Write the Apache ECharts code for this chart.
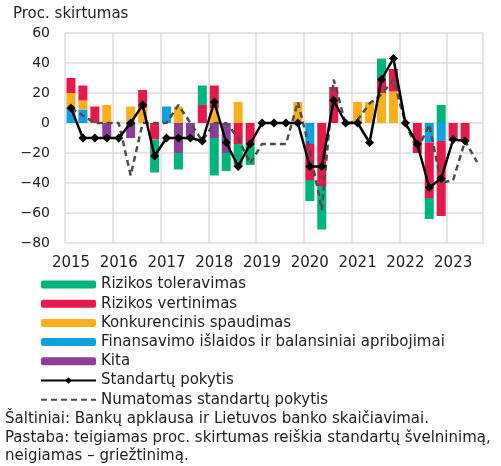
<!DOCTYPE html>
<html>
<head>
<meta charset="utf-8">
<script src="https://cdn.jsdelivr.net/npm/echarts@6/dist/echarts.min.js"></script>
<style>html,body{margin:0;padding:0;background:#fff;}#c{width:501px;height:466px;}</style>
</head>
<body>
<div id="c"></div>
<script>
const quarters = ['2015 Q1','2015 Q2','2015 Q3','2015 Q4','2016 Q1','2016 Q2','2016 Q3','2016 Q4',
'2017 Q1','2017 Q2','2017 Q3','2017 Q4','2018 Q1','2018 Q2','2018 Q3','2018 Q4',
'2019 Q1','2019 Q2','2019 Q3','2019 Q4','2020 Q1','2020 Q2','2020 Q3','2020 Q4',
'2021 Q1','2021 Q2','2021 Q3','2021 Q4','2022 Q1','2022 Q2','2022 Q3','2022 Q4',
'2023 Q1','2023 Q2','2023 Q3'];
const yTicks = [-80, -60, -40, -20, 0, 20, 40, 60];

const rizikosToleravimas = [null,null,null,null,null,null,null,-22,null,-11,null,13,-25,-12,-15,-14,null,null,null,null,-14,-29,null,null,null,null,14,null,null,null,-14,12,null,null,null];
const rizikosVertinimas = [10,10,11,null,null,null,12,-11,null,null,null,12,15,null,-14,-14,null,null,null,null,-24,-42,24,null,null,null,9,15,null,-20,-37,-50,-12,-12,null];
const konkurencinis = [10,6,null,12,null,11,10,null,null,11,null,null,10,null,14,null,null,null,null,14,null,null,null,null,14,14,20,21,null,null,null,null,null,null,null];
const finansavimo = [10,9,null,null,null,null,null,null,11,null,null,null,null,null,null,null,null,null,null,null,-14,null,null,null,null,null,null,null,null,null,-13,-12,null,null,null];
const kita = [null,null,null,-10,null,-10,null,null,null,-20,-11,null,-10,-20,null,null,null,null,null,null,null,null,null,null,null,null,null,null,null,null,null,null,null,null,null];
const standartuPokytis = [10,-10,-10,-10,-10,0,12,-22,-10,-10,-10,-12,14,-13,-29,-14,0,0,0,0,-29,-29,15,0,0,-13,29,43,0,-14,-43,-37,-11,-12,null];
const numatomasPokytis = [10,5,0,0,0,-35,0,0,0,12,0,-12,0,0,-10,-27,-14,-14,-14,14,-18,-58,29,-1,2,13,19,29,0,-18,-1,-40,-38,-12,-26];

const FONT = 'DejaVu Sans';
const TXT = '#222';
const chart = echarts.init(document.getElementById('c'), null, {renderer: 'canvas'});

function bar(name, data, color) {
  return {name, type: 'bar', stack: 'b', data, barWidth: 9, itemStyle: {color}, emphasis: {disabled: true}};
}

chart.setOption({
  animation: false,
  grid: {left: 65, right: 18, top: 33, bottom: 223, containLabel: false},
  xAxis: {
    type: 'category', data: quarters, boundaryGap: true,
    axisLine: {show: false, onZero: false}, axisTick: {show: false},
    axisLabel: {interval: (i) => i % 4 === 0, formatter: (v) => v.slice(0, 4),
      color: TXT, fontFamily: FONT, fontSize: 15, margin: 13},
    splitLine: {show: true, interval: (i) => i % 4 === 0, lineStyle: {color: '#dcdcdc', width: 1.5}}
  },
  yAxis: {
    type: 'value', min: yTicks[0], max: yTicks[yTicks.length - 1], interval: 20,
    axisLine: {show: false}, axisTick: {show: false},
    axisLabel: {color: TXT, fontFamily: FONT, fontSize: 14, margin: 15,
      formatter: (v) => (v < 0 ? '\u2212' + Math.abs(v) : String(v))},
    splitLine: {lineStyle: {color: '#dcdcdc', width: 1.5}}
  },
  legend: {
    orient: 'vertical', left: 35, top: 272, itemWidth: 55, itemHeight: 8, itemGap: 4.2,
    textStyle: {color: TXT, fontFamily: FONT, fontSize: 15},
    data: ['Rizikos toleravimas', 'Rizikos vertinimas', 'Konkurencinis spaudimas',
      'Finansavimo išlaidos ir balansiniai apribojimai', 'Kita', 'Standartų pokytis',
      {name: 'Numatomas standartų pokytis', itemStyle: {opacity: 0}}]
  },
  graphic: [
    {type: 'text', left: 13, top: 7, style: {text: 'Proc. skirtumas', font: '15px "DejaVu Sans"', fill: TXT}},
    {type: 'text', left: 5, top: 412, style: {text: 'Šaltiniai: Bankų apklausa ir Lietuvos banko skaičiavimai.', font: '15px "DejaVu Sans"', fill: TXT}},
    {type: 'text', left: 5, top: 431, style: {text: 'Pastaba: teigiamas proc. skirtumas reiškia standartų švelninimą,', font: '15px "DejaVu Sans"', fill: TXT}},
    {type: 'text', left: 5, top: 449, style: {text: 'neigiamas – griežtinimą.', font: '15px "DejaVu Sans"', fill: TXT}}
  ],
  series: [
    bar('Finansavimo išlaidos ir balansiniai apribojimai', finansavimo, '#0ea1de'),
    bar('Konkurencinis spaudimas', konkurencinis, '#fbb01b'),
    bar('Kita', kita, '#8c3e98'),
    bar('Rizikos vertinimas', rizikosVertinimas, '#e5194b'),
    bar('Rizikos toleravimas', rizikosToleravimas, '#00b47e'),
    {name: 'Numatomas standartų pokytis', type: 'line', data: numatomasPokytis, symbol: 'none',
      lineStyle: {color: '#4d4d4d', width: 2.5, type: [6, 4]}, itemStyle: {color: '#4d4d4d'}, z: 3},
    {name: 'Standartų pokytis', type: 'line', data: standartuPokytis, symbol: 'diamond', symbolSize: 9,
      showAllSymbol: true,
      lineStyle: {color: '#000', width: 2.5}, itemStyle: {color: '#000'}, z: 4}
  ]
});
</script>
</body>
</html>
